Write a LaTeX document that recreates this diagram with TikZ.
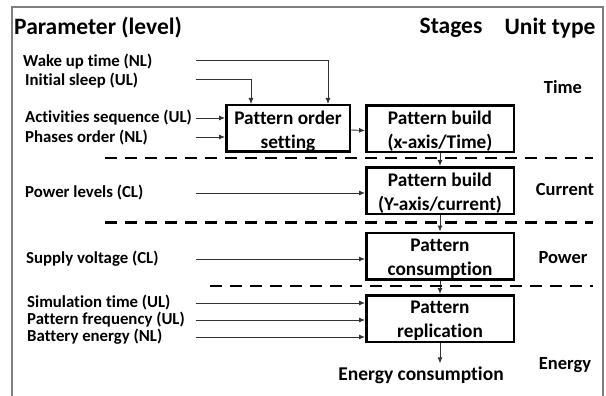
\documentclass[tikz,border=0pt]{standalone}
\usepackage{fontspec}
\setmainfont{Carlito}[Ligatures={NoCommon}]
\usetikzlibrary{arrows.meta}
\begin{document}
\begin{tikzpicture}[x=1pt,y=-1pt,
  hdr/.style={font=\fontsize{23.5}{27}\selectfont\bfseries, inner sep=0pt},
  lbl/.style={font=\fontsize{16.8}{19}\selectfont\bfseries, anchor=west, inner sep=0pt},
  unit/.style={font=\fontsize{18.5}{22}\selectfont\bfseries, inner sep=0pt},
  stagebox/.style={draw, line width=2.5pt, inner sep=0pt, minimum width=147.5pt, minimum height=46.5pt},
  boxtxt/.style={align=center, inner sep=0pt, font=\fontsize{19.3}{24}\selectfont\bfseries, yshift=-2.5pt},
  arr/.style={draw=black!80, line width=0.9pt, -{Latex[length=6pt,width=5pt]}},
  sep/.style={line width=2.5pt, dash pattern=on 12pt off 8pt},
  outerframe/.style={draw=black!50, line width=1.3pt}]
\useasboundingbox (0,0) rectangle (606,396);
\draw[outerframe] (12,7) rectangle (603,420);
% headers
\node[hdr, anchor=west] (hpar) at (14,28) {Parameter (level)};
\node[hdr] (hstg) at (451,28) {Stages};
\node[hdr] (hunit) at (550,28) {Unit type};
% units
\node[unit] (utime) at (563,87) {Time};
\node[unit] (ucur) at (565,190) {Current};
\node[unit] (upow) at (563,258) {Power};
\node[unit] (uen) at (565,365) {Energy};
% boxes
\node[stagebox, minimum width=123.5pt] (b1) at (288,128.5) {};
\node[stagebox] (b2) at (440,129) {};
\node[stagebox] (b3) at (440,190.5) {};
\node[stagebox] (b4) at (440,256) {};
\node[stagebox] (b5) at (440,318.5) {};
\node[boxtxt] (t1) at (b1) {Pattern order\\setting};
\node[boxtxt] (t2) at (b2) {Pattern build\\(x-axis/Time)};
\node[boxtxt] (t3) at (b3) {Pattern build\\(Y-axis/current)};
\node[boxtxt] (t4) at (b4) {Pattern\\consumption};
\node[boxtxt] (t5) at (b5) {Pattern\\replication};
\node[font=\fontsize{19.5}{23}\selectfont\bfseries, inner sep=3pt] (econs) at (421,375) {Energy consumption};
% labels
\node[lbl] (wake) at (23,62) {Wake up time (NL)};
\node[lbl] (isl) at (25,81) {Initial sleep (UL)};
\node[lbl] (act) at (25,118) {Activities sequence (UL)};
\node[lbl] (pha) at (25,138) {Phases order (NL)};
\node[lbl] (pow) at (25,193) {Power levels (CL)};
\node[lbl] (sup) at (26,259) {Supply voltage (CL)};
\node[lbl] (sim) at (27,303) {Simulation time (UL)};
\node[lbl] (pfr) at (27,320) {Pattern frequency (UL)};
\node[lbl] (bat) at (27,337) {Battery energy (NL)};
% line starts
\coordinate (cw) at (196,60);
\coordinate (ci) at (196,79);
\coordinate (ca) at (196,118);
\coordinate (cp) at (196,137);
\coordinate (cpl) at (196,193);
\coordinate (csv) at (196,259);
\coordinate (cs1) at (196,303);
\coordinate (cs2) at (196,320);
\coordinate (cs3) at (196,337);
% connectors
\draw[arr] (cw) -| ([xshift=40pt]b1.north);
\draw[arr] (ci) -| ([xshift=-37pt]b1.north);
\draw[arr] (ca) -- (ca -| b1.west);
\draw[arr] (cp) -- (cp -| b1.west);
\draw[arr] ([yshift=-1.5pt]b1.east) -- ([yshift=-1.5pt]b2.west);
\draw[arr] (b2) -- (b3);
\draw[arr] (b3) -- (b4);
\draw[arr] (b4) -- (b5);
\draw[arr] (b5.south) -- (b5.south |- econs.north);
\draw[arr] (cpl) -- (cpl -| b3.west);
\draw[arr] (csv) -- (csv -| b4.west);
\draw[arr] (cs1) -- (cs1 -| b5.west);
\draw[arr] (cs2) -- (cs2 -| b5.west);
\draw[arr] (cs3) -- (cs3 -| b5.west);
% separators
\draw[sep] (105,158) -- (593,158);
\draw[sep] (105,222.5) -- (593,222.5);
\draw[sep] (210,286) -- (593,286);
\end{tikzpicture}
\end{document}
